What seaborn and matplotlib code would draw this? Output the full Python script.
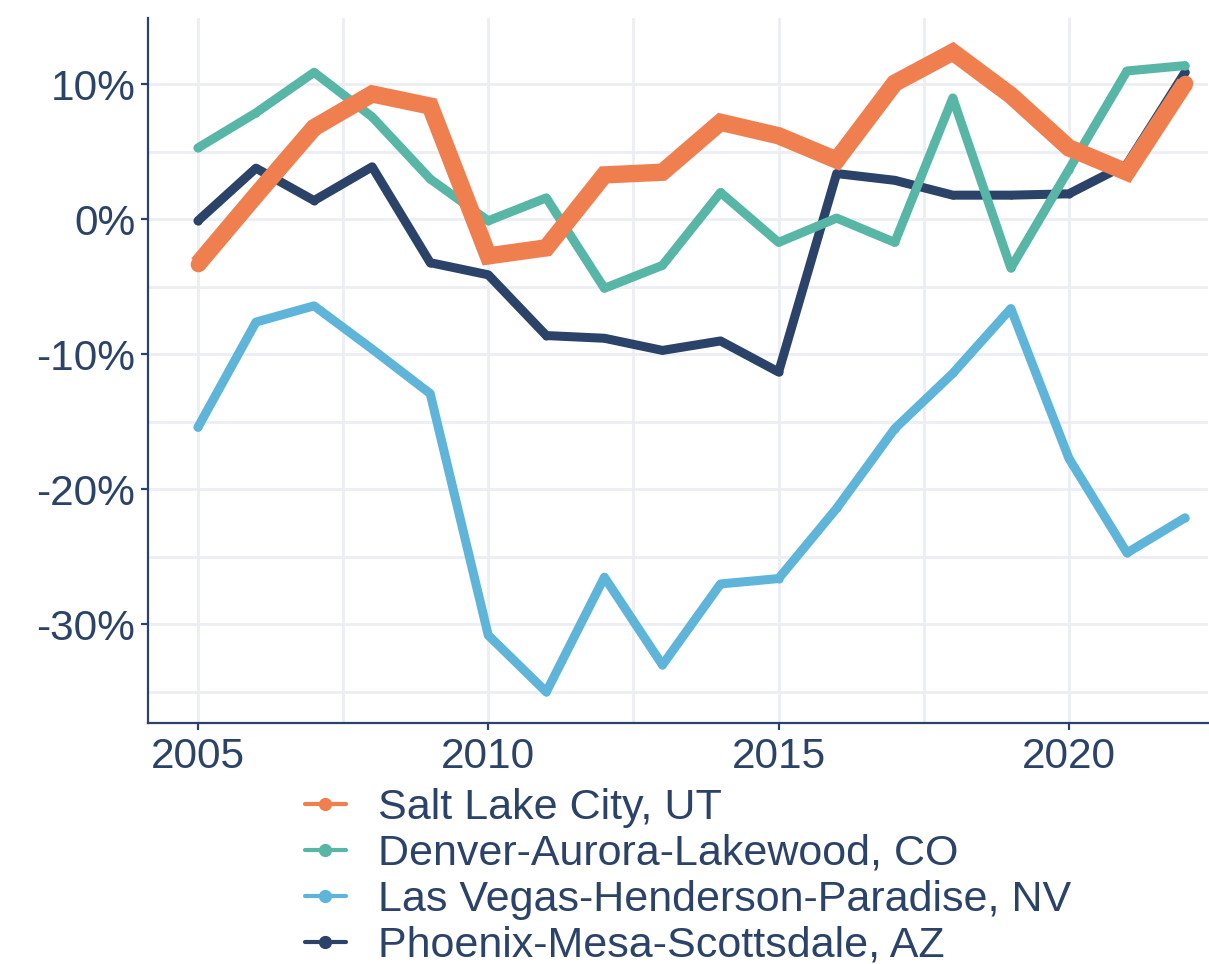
import matplotlib
matplotlib.use("Agg")
import matplotlib.pyplot as plt
import matplotlib.ticker as mticker
from matplotlib.lines import Line2D
import seaborn as sns
import pandas as pd

years = list(range(2005, 2023))
salt_lake = [-3.3, 1.8, 6.8, 9.3, 8.4, -2.7, -2.1, 3.3, 3.5, 7.2, 6.2, 4.4, 10.1, 12.4, 9.2, 5.3, 3.5, 10.1]
denver = [5.3, 7.9, 10.9, 7.6, 3.0, -0.1, 1.6, -5.1, -3.4, 2.0, -1.7, 0.1, -1.7, 9.0, -3.6, 3.7, 11.0, 11.4]
las_vegas = [-15.4, -7.6, -6.4, -9.6, -12.9, -30.8, -35.0, -26.5, -33.0, -27.0, -26.6, -21.4, -15.5, -11.4, -6.6, -17.7, -24.7, -22.1]
phoenix = [-0.1, 3.8, 1.4, 3.9, -3.2, -4.1, -8.6, -8.8, -9.7, -9.0, -11.3, 3.4, 2.9, 1.8, 1.8, 1.9, 4.1, 10.9]

names = ["Salt Lake City, UT", "Denver-Aurora-Lakewood, CO",
         "Las Vegas-Henderson-Paradise, NV", "Phoenix-Mesa-Scottsdale, AZ"]
series = [salt_lake, denver, las_vegas, phoenix]
colors = ["#F07F4F", "#58B6A7", "#5EB5D9", "#2B4269"]
widths = [12.5, 6.5, 6.5, 6.5]

navy = "#2B4269"
grid_c = "#EBEEF3"

sns.set_theme(style="white")
plt.rcParams["font.family"] = ["Liberation Sans", "DejaVu Sans"]

rows = []
for n, s in zip(names, series):
    for y, v in zip(years, s):
        rows.append({"year": y, "value": v / 100.0, "metro": n})
df = pd.DataFrame(rows)

fig = plt.figure(figsize=(12.09, 9.64), dpi=100)
ax = fig.add_axes([0.1224, 0.25, 0.877, 0.731])

draw_order = [2, 3, 1, 0]
for k, i in enumerate(draw_order):
    sub = df[df["metro"] == names[i]]
    sns.lineplot(data=sub, x="year", y="value", ax=ax, color=colors[i],
                 linewidth=widths[i], marker="o", markersize=widths[i] * 0.9,
                 markeredgewidth=0, legend=False, zorder=3 + k,
                 solid_joinstyle="miter" if i == 0 else "round",
                 solid_capstyle="butt" if i == 0 else "round")

ax.set_xlim(2004.14, 2022.4)
ax.set_ylim(-0.373, 0.149)
ax.xaxis.set_major_locator(mticker.MultipleLocator(5))
ax.xaxis.set_minor_locator(mticker.MultipleLocator(2.5))
ax.yaxis.set_major_locator(mticker.MultipleLocator(0.1))
ax.yaxis.set_minor_locator(mticker.MultipleLocator(0.05))
ax.yaxis.set_major_formatter(mticker.FuncFormatter(lambda v, p: f"{v*100:.0f}%"))
ax.xaxis.set_major_formatter(mticker.FuncFormatter(lambda v, p: f"{v:.0f}"))

ax.grid(True, which="both", color=grid_c, linewidth=2.0, zorder=0)
ax.set_axisbelow(True)
for side in ["top", "right"]:
    ax.spines[side].set_visible(False)
for side in ["left", "bottom"]:
    ax.spines[side].set_color(navy)
    ax.spines[side].set_linewidth(1.6)
ax.tick_params(axis="both", which="major", direction="out", length=5, width=1.6,
               color=navy, labelcolor=navy, labelsize=30.5, pad=4)
ax.tick_params(axis="both", which="minor", length=0)
ax.tick_params(axis="x", which="major", bottom=True, pad=5)
ax.tick_params(axis="y", which="major", left=True, pad=4)
ax.set_xlabel("")
ax.set_ylabel("")

handles = [Line2D([0], [0], color=c, linewidth=3, marker="o", markersize=8.5)
           for c in colors]
leg = fig.legend(handles, names, loc="upper left", bbox_to_anchor=(0.252, 0.183),
                 frameon=False, fontsize=31, labelcolor=navy, handlelength=0.95,
                 handletextpad=0.75, labelspacing=0.14, borderpad=0, borderaxespad=0)

fig.savefig("out.png", dpi=100)
